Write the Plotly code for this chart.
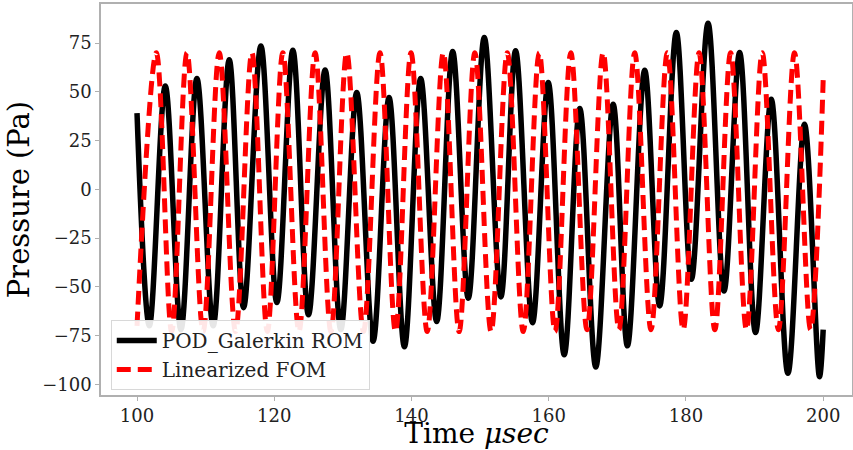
import plotly.graph_objects as go

# ---- Data (extrema + end points) ----
# Linearized FOM (red dashed)
fom_t = [100.0, 102.81, 105.05, 107.28, 109.63, 111.98, 114.36, 116.74, 118.99,
         121.25, 123.6, 125.95, 128.26, 130.57, 133.0, 135.41, 137.67, 139.93,
         142.29, 144.64, 146.94, 149.24, 151.6, 153.96, 156.29, 158.62, 160.92,
         163.22, 165.58, 167.93, 170.23, 172.53, 174.91, 177.29, 179.6, 181.91,
         184.21, 186.51, 188.82, 191.12, 193.47, 195.82, 198.15, 200.0]
fom_p = [-70, 70, -73, 70, -73, 70, -73, 70, -73,
         70, -73, 70, -73, 70, -73, 70, -73, 70,
         -73, 70, -73, 70, -73, 70, -73, 70, -73,
         70, -72, 70, -72, 70, -72, 70, -72, 70,
         -72, 70, -72, 70, -72, 70, -72, 56]

# POD_Galerkin ROM (black solid)
rom_t = [100.0, 101.8, 104.12, 106.4, 108.73, 111.1, 113.44, 115.53, 118.05,
         120.38, 122.71, 124.99, 127.41, 129.7, 132.02, 134.4, 136.73, 138.97,
         141.34, 143.67, 146.0, 148.28, 150.61, 153.03, 155.17, 157.64, 159.93,
         162.26, 164.53, 166.86, 169.39, 171.47, 173.99, 176.17, 178.60, 180.79,
         183.22, 185.55, 187.82, 190.14, 192.43, 194.86, 197.28, 199.46, 200.0]
rom_p = [39, -70, 53.0, -72, 56.8, -70, 66.4, -60.7, 73.5,
         -58.1, 71.3, -64.4, 61.2, -72, 49.6, -78, 47.0, -80.8,
         56.8, -67.8, 70.6, -55.9, 77.8, -55.2, 71.0, -68.4, 54.7,
         -84.9, 41.4, -91.1, 43.6, -80.3, 61.0, -59.8, 80.4, -46.2,
         85.1, -52.2, 70.1, -73.5, 46.2, -94.4, 33.3, -96.1, -72]

x_ticks = [100, 120, 140, 160, 180, 200]
y_ticks = [-100, -75, -50, -25, 0, 25, 50, 75]

FONT = "DejaVu Serif"
GRAY = "#b0b0b0"

fig = go.Figure()
fig.add_trace(go.Scatter(
    x=rom_t, y=rom_p, mode="lines", name="POD_Galerkin ROM",
    line=dict(color="black", width=5.5, shape="spline", smoothing=1.0),
))
fig.add_trace(go.Scatter(
    x=fom_t, y=fom_p, mode="lines", name="Linearized FOM",
    line=dict(color="red", width=5, dash="14px,7px", shape="spline", smoothing=1.0),
))

fig.update_layout(
    width=853, height=450,
    margin=dict(l=101, r=1, t=4, b=55, autoexpand=False),
    paper_bgcolor="white", plot_bgcolor="white",
    font=dict(family=FONT, size=18, color="#222222"),
    showlegend=True,
    legend=dict(
        x=0.013, y=0.013, xanchor="left", yanchor="bottom",
        bgcolor="rgba(255,255,255,0.9)", bordercolor="#d8d8d8", borderwidth=1,
        font=dict(family=FONT, size=20, color="#222222"),
        tracegroupgap=0, itemwidth=40,
    ),
)
fig.update_xaxes(
    range=[94.75, 204.2], tickvals=x_ticks, ticktext=[str(v) for v in x_ticks],
    showline=True, linecolor=GRAY, linewidth=1.5, mirror=True, automargin=False,
    ticks="outside", ticklen=4, tickcolor=GRAY, showgrid=False, zeroline=False,
    tickfont=dict(family=FONT, size=18, color="#222222"),
    title=dict(text="Time <i>μsec</i>", font=dict(family=FONT, size=28, color="black"), standoff=9),
)
fig.update_yaxes(
    range=[-105.5, 95.0], tickvals=y_ticks,
    showline=True, linecolor=GRAY, linewidth=1.5, mirror=True, automargin=False,
    ticks="outside", ticklen=4, tickcolor=GRAY, showgrid=False, zeroline=False,
    tickfont=dict(family=FONT, size=18, color="#222222"),
    title=dict(text="Pressure (Pa)", font=dict(family=FONT, size=29, color="black"), standoff=4),
)

fig.write_html("out.html")
